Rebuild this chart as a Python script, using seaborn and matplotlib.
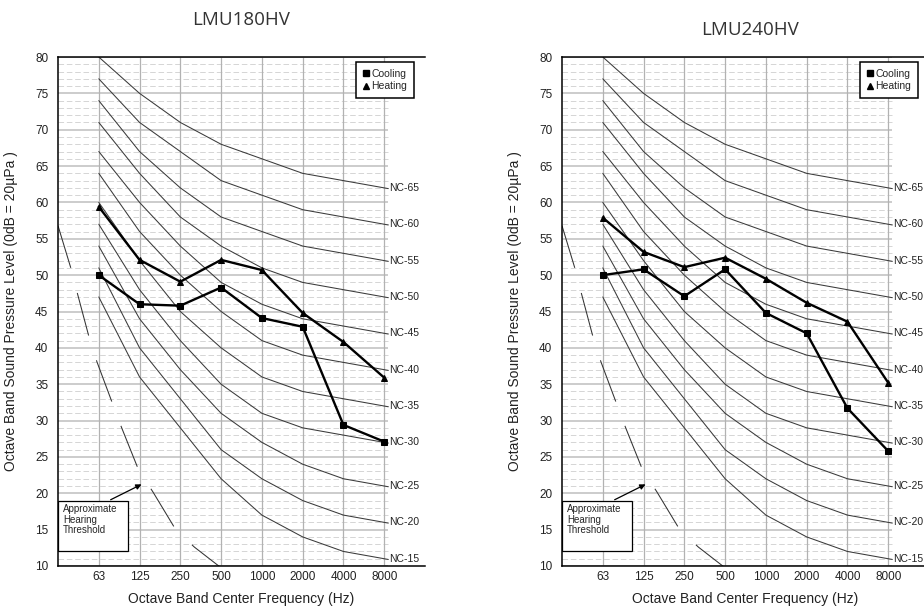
import numpy as np
import pandas as pd
import seaborn as sns
import matplotlib.pyplot as plt
from matplotlib.lines import Line2D
from matplotlib.patches import Rectangle

# octave band centre frequencies (x categories)
freqs = ['63', '125', '250', '500', '1000', '2000', '4000', '8000']

# NC reference curves (dB per octave band)
nc_15 = [47, 36, 29, 22, 17, 14, 12, 11]
nc_20 = [51, 40, 33, 26, 22, 19, 17, 16]
nc_25 = [54, 44, 37, 31, 27, 24, 22, 21]
nc_30 = [57, 48, 41, 35, 31, 29, 28, 27]
nc_35 = [60, 52, 45, 40, 36, 34, 33, 32]
nc_40 = [64, 56, 50, 45, 41, 39, 38, 37]
nc_45 = [67, 60, 54, 49, 46, 44, 43, 42]
nc_50 = [71, 64, 58, 54, 51, 49, 48, 47]
nc_55 = [74, 67, 62, 58, 56, 54, 53, 52]
nc_60 = [77, 71, 67, 63, 61, 59, 58, 57]
nc_65 = [80, 75, 71, 68, 66, 64, 63, 62]
nc_names = ['NC-15', 'NC-20', 'NC-25', 'NC-30', 'NC-35', 'NC-40',
            'NC-45', 'NC-50', 'NC-55', 'NC-60', 'NC-65']
nc_curves = [nc_15, nc_20, nc_25, nc_30, nc_35, nc_40,
             nc_45, nc_50, nc_55, nc_60, nc_65]

# measured sound levels
cool_180 = [50.0, 46.0, 45.8, 48.3, 44.1, 42.9, 29.4, 27.1]
heat_180 = [59.4, 52.1, 49.1, 52.1, 50.7, 44.8, 40.8, 35.9]
cool_240 = [50.0, 50.8, 47.1, 50.8, 44.8, 42.0, 31.7, 25.8]
heat_240 = [57.9, 53.2, 51.1, 52.4, 49.5, 46.2, 43.6, 35.2]

# approximate hearing threshold (Hz, dB)
thr_hz = [31.5, 39, 43.5, 53, 61, 79, 93, 124, 158, 233, 320, 500]
thr_db = [56.8, 51.1, 47.7, 41.7, 38.1, 32.5, 29.0, 23.2, 20.2, 15.0, 12.6, 9.8]

sns.set_style('white')
plt.rcParams['font.family'] = ['Liberation Sans', 'DejaVu Sans']
plt.rcParams['lines.scale_dashes'] = False

pos = np.arange(1, len(freqs) + 1)


def draw_panel(ax, cool, heat):
    # background grid
    for v in range(10, 81):
        if v % 5 == 0:
            ax.hlines(v, 0, 8.1, color='#c4c4c4', lw=1.2, zorder=0)
        else:
            ax.hlines(v, 0, 8.1, color='#cfcfcf', lw=0.6, linestyles=(0, (4, 2)), zorder=0)
    ax.vlines(pos, 10, 80, color='#b2b2b2', lw=0.9, zorder=0)

    # NC curves
    rows = []
    for name, vals in zip(nc_names, nc_curves):
        for p, v in zip(pos, vals):
            rows.append((name, p, v))
        rows.append((name, 8.1, vals[-1] + (vals[-1] - vals[-2]) * 0.1))
        ax.text(8.13, vals[-1], name, va='center', ha='left', fontsize=7.5, color='#222222')
    nc_df = pd.DataFrame(rows, columns=['curve', 'pos', 'db'])
    sns.lineplot(data=nc_df, x='pos', y='db', units='curve', estimator=None,
                 color='#3a3a3a', lw=0.75, sort=False, ax=ax, legend=False)

    # hearing threshold
    ax.plot(np.log2(np.array(thr_hz) / 31.5), thr_db, color='#333333', lw=0.75,
            dashes=(31.7, 18.7))

    # measured data
    d = pd.DataFrame({'pos': np.concatenate([pos, pos]),
                      'db': cool + heat,
                      'mode': ['Cooling'] * 8 + ['Heating'] * 8})
    sns.lineplot(data=d, x='pos', y='db', style='mode',
                 markers={'Cooling': 's', 'Heating': '^'}, dashes=False,
                 color='black', lw=1.7, markersize=5, markeredgecolor='black',
                 legend=False, ax=ax, zorder=5)

    # hearing threshold note
    ax.add_patch(Rectangle((0, 12.06), 1.72, 6.88, facecolor='white',
                           edgecolor='black', lw=0.9, zorder=6))
    ax.text(0.12, 18.55, 'Approximate\nHearing\nThreshold', fontsize=7,
            va='top', ha='left', linespacing=1.1, zorder=7)
    ax.annotate('', xy=(2.11, 21.4), xytext=(1.23, 18.94),
                arrowprops=dict(arrowstyle='-|>', color='black', lw=0.9,
                                mutation_scale=8), zorder=7)

    handles = [Line2D([], [], marker='s', color='black', ls='none', markersize=5),
               Line2D([], [], marker='^', color='black', ls='none', markersize=5)]
    leg = ax.legend(handles, ['Cooling', 'Heating'], loc='upper right',
                    bbox_to_anchor=(0.97, 0.99), fontsize=7.5, frameon=True,
                    fancybox=False, edgecolor='black', framealpha=1,
                    handlelength=0.6, handletextpad=0.2, labelspacing=0.25,
                    borderpad=0.65, borderaxespad=0)
    leg.get_frame().set_linewidth(1.1)

    ax.set_xlim(0, 9)
    ax.set_ylim(10, 80)
    ax.set_xticks(pos)
    ax.set_xticklabels(freqs)
    ax.set_yticks(range(10, 81, 5))
    ax.tick_params(length=0, labelsize=8.5, colors='#222222')
    ax.tick_params(axis='y', pad=7)
    ax.tick_params(axis='x', pad=3.5)
    for s in ['left', 'top', 'bottom']:
        ax.spines[s].set_color('black')
        ax.spines[s].set_linewidth(1.1)
    ax.spines['right'].set_visible(False)
    ax.set_xlabel('Octave Band Center Frequency (Hz)', fontsize=10, color='#222222')
    ax.set_ylabel('Octave Band Sound Pressure Level (0dB = 20µPa )', fontsize=10,
                  color='#222222')
    ax.xaxis.set_label_coords(0.5, -0.052)
    ax.yaxis.set_label_coords(-0.109, 0.5)


fig = plt.figure(figsize=(9.24, 6.07), dpi=100)
ax1 = fig.add_axes([58 / 924, 1 - 566 / 607, 367 / 924, 509 / 607])
ax2 = fig.add_axes([562 / 924, 1 - 566 / 607, 367 / 924, 509 / 607])

draw_panel(ax1, cool_180, heat_180)
draw_panel(ax2, cool_240, heat_240)

fig.text(241 / 924, 1 - 20 / 607, 'LMU180HV', ha='center', va='center',
         fontsize=13.5, family='Open Sans', color='#333333')
fig.text(750 / 924, 1 - 30 / 607, 'LMU240HV', ha='center', va='center',
         fontsize=13.5, family='Open Sans', color='#333333')

fig.savefig('out.png', dpi=100)
